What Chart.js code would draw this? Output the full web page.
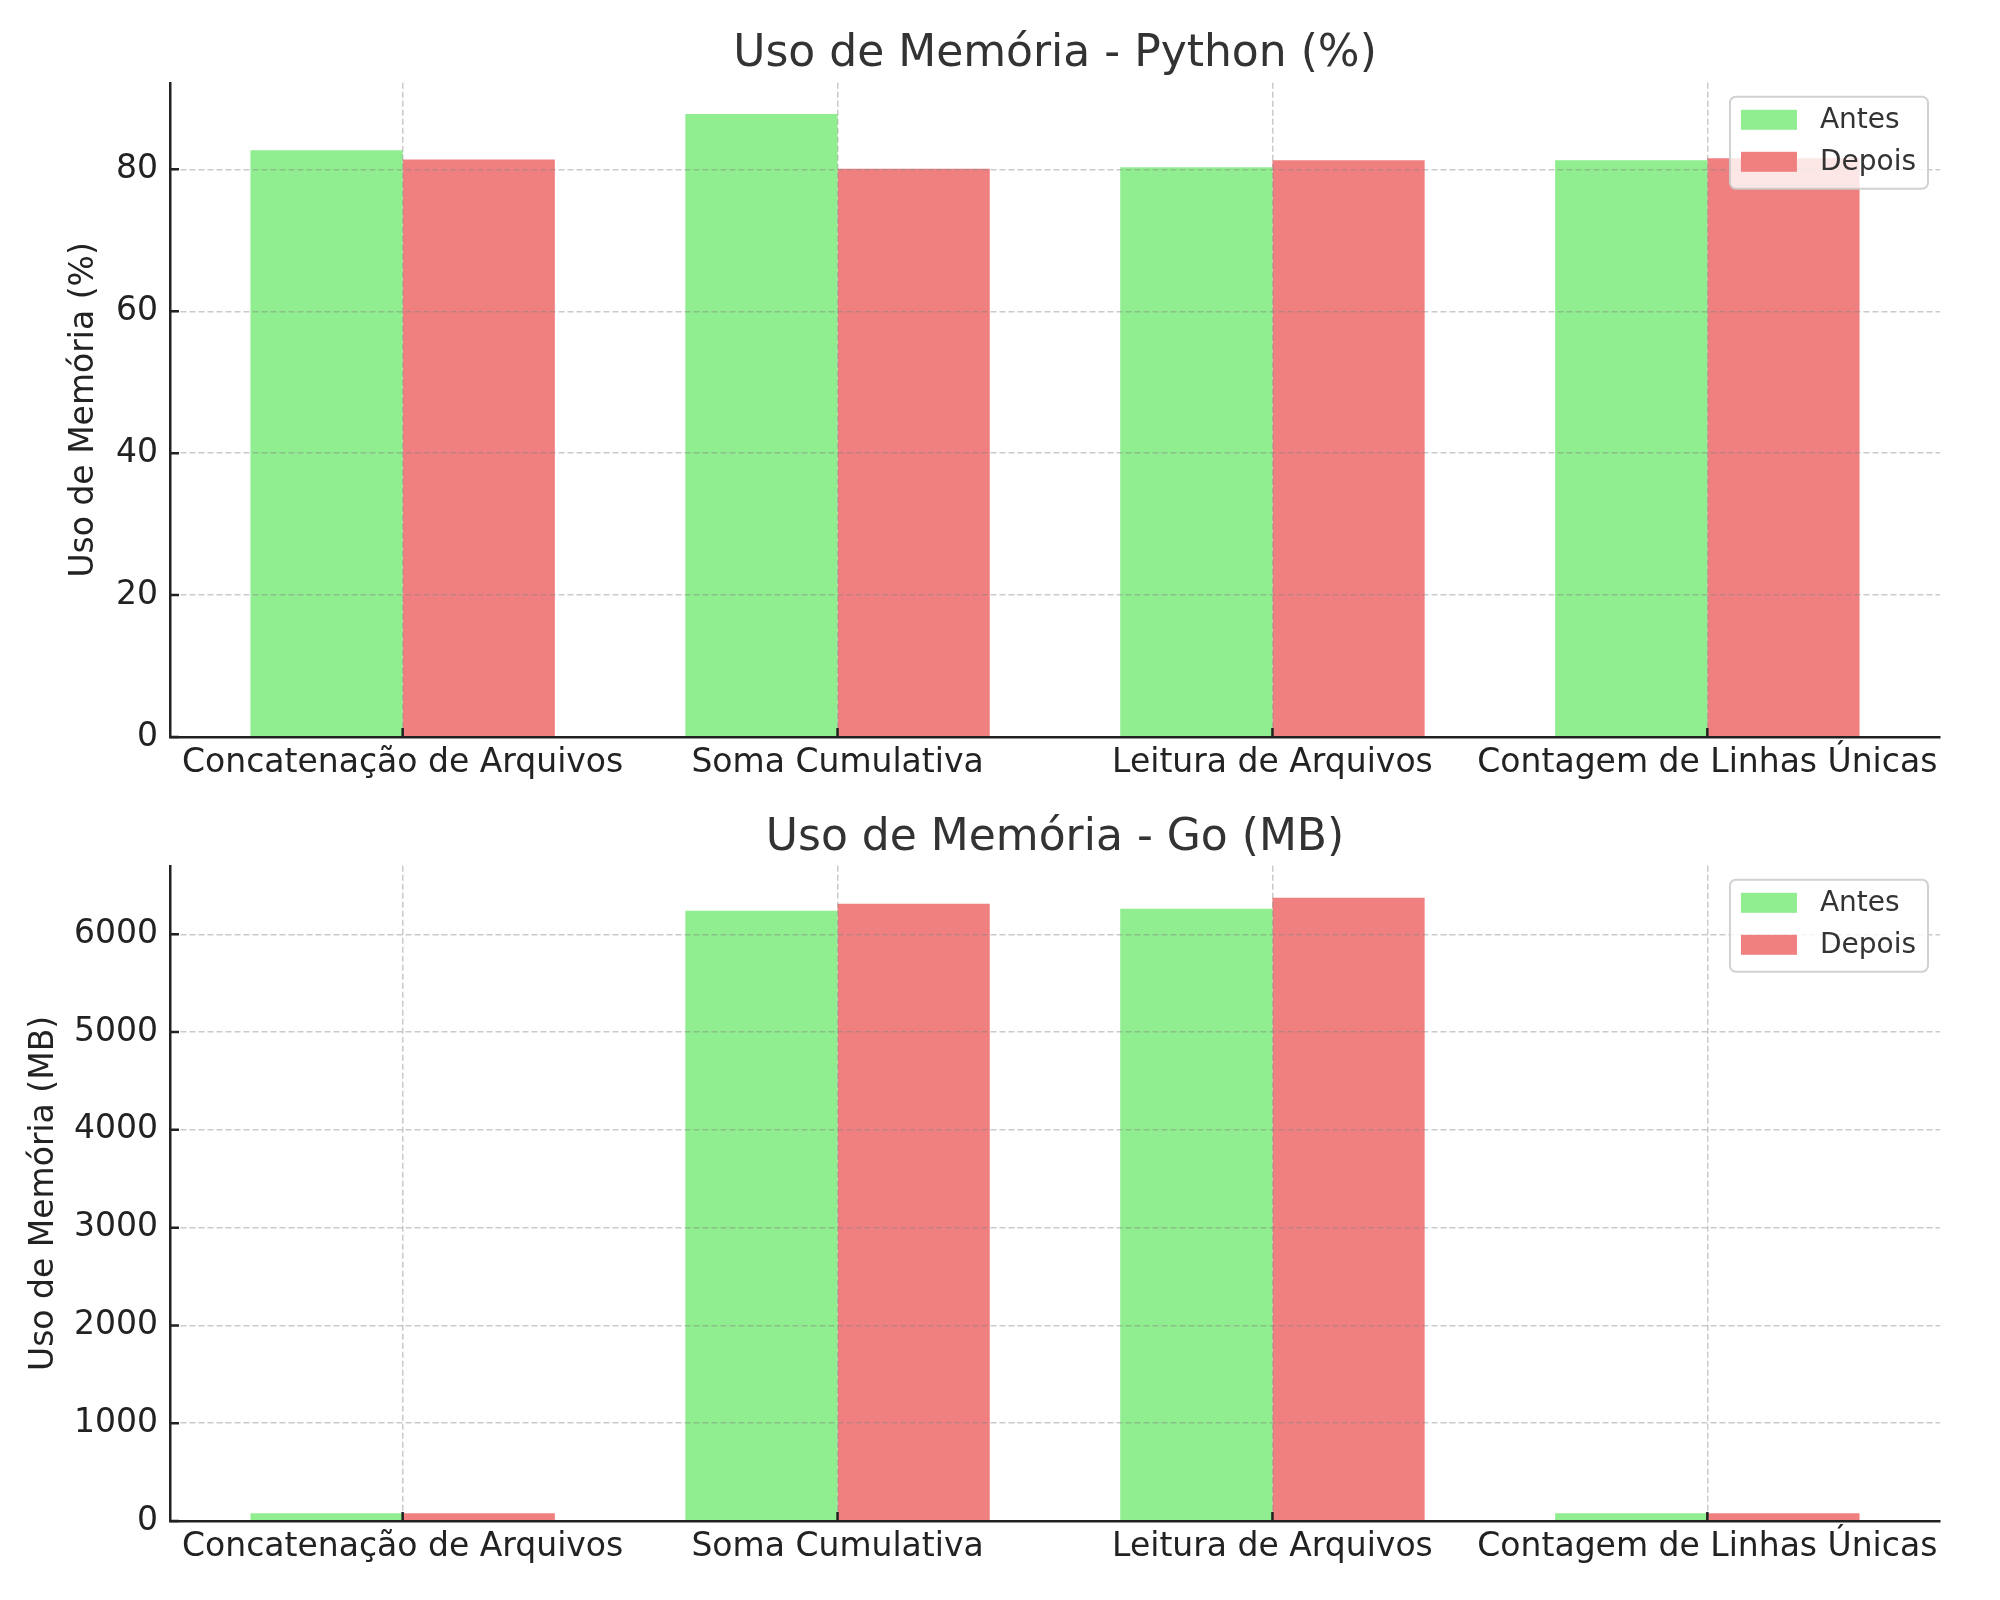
<!DOCTYPE html>
<html>
<head>
<meta charset="utf-8">
<script src="https://cdn.jsdelivr.net/npm/chart.js@4.4.0/dist/chart.umd.min.js"></script>
<style>
html,body{margin:0;padding:0;background:#fff;}
canvas{position:absolute;left:0;}
</style>
</head>
<body>
<canvas id="c1" width="2000" height="800" style="top:0px"></canvas>
<canvas id="c2" width="2000" height="800" style="top:800px"></canvas>
<script>
const categories = ['Concatenação de Arquivos', 'Soma Cumulativa', 'Leitura de Arquivos', 'Contagem de Linhas Únicas'];
const seriesLabels = ['Antes', 'Depois'];
const pythonAntes = [82.7, 87.8, 80.3, 81.3];
const pythonDepois = [81.4, 80.1, 81.3, 81.55];
const goAntes = [80, 6240, 6260, 80];
const goDepois = [80, 6312, 6373, 80];
const pythonTicks = [0, 20, 40, 60, 80];
const goTicks = [0, 1000, 2000, 3000, 4000, 5000, 6000];
const titles = ['Uso de Memória - Python (%)', 'Uso de Memória - Go (MB)'];
const yTitles = ['Uso de Memória (%)', 'Uso de Memória (MB)'];

const FONT = 'DejaVu Sans';
const GREEN = '#90EE90';
const RED = '#F08080';

const inwardTicks = {
  id: 'inwardTicks',
  afterDraw(chart) {
    const {ctx, chartArea: a, scales: {x, y}} = chart;
    ctx.save();
    ctx.strokeStyle = '#222';
    ctx.lineWidth = 2.5;
    ctx.beginPath();
    x.ticks.forEach(t => {
      const px = x.getPixelForValue(t.value);
      ctx.moveTo(px, a.bottom);
      ctx.lineTo(px, a.bottom - 9);
    });
    y.ticks.forEach(t => {
      const py = y.getPixelForValue(t.value);
      ctx.moveTo(a.left, py);
      ctx.lineTo(a.left + 9, py);
    });
    ctx.stroke();
    ctx.restore();
  }
};

const boxLegend = {
  id: 'boxLegend',
  afterDraw(chart) {
    const {ctx, chartArea: a} = chart;
    const ds = chart.data.datasets;
    ctx.save();
    ctx.font = '28px "' + FONT + '"';
    const tw = Math.max(...ds.map(d => ctx.measureText(d.label).width));
    const w = 90 + tw + 12, h = 92;
    const left = a.right - 12 - w, top = a.top + 14;
    ctx.beginPath();
    ctx.roundRect(left, top, w, h, 6);
    ctx.fillStyle = 'rgba(255,255,255,0.8)';
    ctx.fill();
    ctx.lineWidth = 2;
    ctx.strokeStyle = 'rgba(204,204,204,0.9)';
    ctx.stroke();
    ds.forEach((d, i) => {
      const cy = top + 23 + i * 42;
      ctx.fillStyle = d.backgroundColor;
      ctx.fillRect(left + 11, cy - 10, 56, 20);
      ctx.fillStyle = '#333';
      ctx.textBaseline = 'middle';
      ctx.textAlign = 'left';
      ctx.fillText(d.label, left + 90, cy + 1);
    });
    ctx.restore();
  }
};

function makeChart(id, title, yTitle, antes, depois, yMax, yTicks, p) {
  const gridCommon = {color: 'rgba(128,128,128,0.42)', lineWidth: 1.5, drawTicks: false, offset: false, z: 1};
  const borderCommon = {color: '#222', width: 2.5, dash: [6, 3], z: 2};
  return new Chart(document.getElementById(id), {
    type: 'bar',
    data: {
      datasets: [
        {label: seriesLabels[0], data: antes.map((v, i) => ({x: i, y: v})), backgroundColor: GREEN, borderWidth: 0, categoryPercentage: 0.7, barPercentage: 1.0},
        {label: seriesLabels[1], data: depois.map((v, i) => ({x: i, y: v})), backgroundColor: RED, borderWidth: 0, categoryPercentage: 0.7, barPercentage: 1.0}
      ]
    },
    options: {
      responsive: false,
      animation: false,
      layout: {padding: {left: 0, right: 60, top: 0, bottom: 0}},
      plugins: {
        legend: {display: false},
        tooltip: {enabled: false},
        title: {
          display: true, text: title, fullSize: false, color: '#333',
          font: {family: FONT, size: 44, weight: 'normal'},
          padding: {top: p.titleTop, bottom: p.titleBottom}
        }
      },
      scales: {
        x: {
          type: 'linear', min: -0.535, max: 3.535, offset: false,
          afterBuildTicks: s => { s.ticks = categories.map((c, i) => ({value: i})); },
          afterFit: s => { s.height = p.xHeight; },
          ticks: {
            callback: v => categories[v], color: '#222',
            font: {family: FONT, size: 33}, padding: 7, maxRotation: 0, autoSkip: false
          },
          grid: gridCommon,
          border: borderCommon
        },
        y: {
          min: 0, max: yMax,
          afterBuildTicks: s => { s.ticks = yTicks.map(v => ({value: v})); },
          afterFit: s => { s.width = 170; },
          ticks: {callback: v => String(v), color: '#222', font: {family: FONT, size: 33}, padding: 12},
          grid: gridCommon,
          border: borderCommon,
          title: {
            display: true, text: yTitle, color: '#222',
            font: {family: FONT, size: 33}, padding: {top: p.yTitlePad, bottom: 0}
          }
        }
      }
    },
    plugins: [inwardTicks, boxLegend]
  });
}

makeChart('c1', titles[0], yTitles[0], pythonAntes, pythonDepois, 92.2, pythonTicks,
  {titleTop: 28, titleBottom: 2, xHeight: 63, yTitlePad: 65});
makeChart('c2', titles[1], yTitles[1], goAntes, goDepois, 6700, goTicks,
  {titleTop: 12, titleBottom: 1, xHeight: 79, yTitlePad: 25});
</script>
</body>
</html>
